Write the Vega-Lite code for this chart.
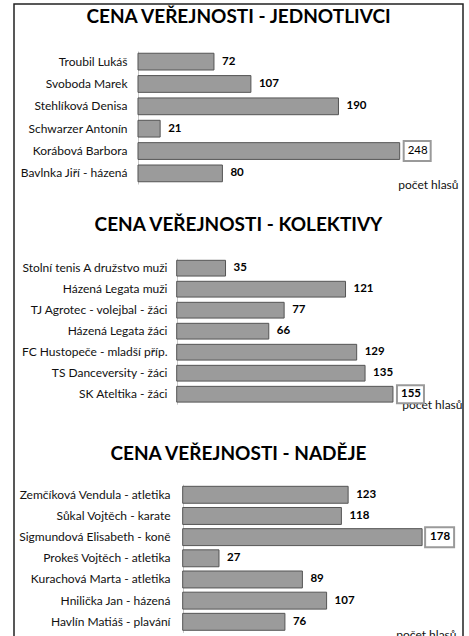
{
  "$schema": "https://vega.github.io/schema/vega-lite/v6.json",
  "padding": {"left": 13, "top": 3, "right": 0, "bottom": 0},
  "autosize": {"type": "pad"},
  "background": "white",
  "spacing": 0,
  "bounds": "flush",
  "config": {
    "font": "Lato",
    "view": {"stroke": "#222", "strokeWidth": 1.5},
    "concat": {"spacing": 0},
    "title": {"font": "Lato", "fontSize": 19, "fontWeight": "bold", "color": "#000", "anchor": "middle", "frame": "group", "baseline": "alphabetic"},
    "axisY": {"domainColor": "#c8c8c8", "domainWidth": 1, "ticks": false, "tickSize": 0, "grid": false, "labelFont": "Lato", "labelFontSize": 12, "labelColor": "#111", "labelLimit": 0, "title": null},
    "axisX": {"labels": false, "ticks": false, "domain": false, "grid": false, "titleFont": "Lato", "titleFontSize": 12, "titleFontWeight": "normal", "titleColor": "#111", "titleAlign": "right", "titleBaseline": "middle", "titleAnchor": null}
  },
  "datasets": {
    "jednotlivci": [
      {"jmeno": "Troubil Lukáš", "hlasy": 72},
      {"jmeno": "Svoboda Marek", "hlasy": 107},
      {"jmeno": "Stehlíková Denisa", "hlasy": 190},
      {"jmeno": "Schwarzer Antonín", "hlasy": 21},
      {"jmeno": "Korábová Barbora", "hlasy": 248},
      {"jmeno": "Bavlnka Jiří - házená", "hlasy": 80}
    ],
    "kolektivy": [
      {"jmeno": "Stolní tenis A družstvo muži", "hlasy": 35},
      {"jmeno": "Házená Legata muži", "hlasy": 121},
      {"jmeno": "TJ Agrotec - volejbal - žáci", "hlasy": 77},
      {"jmeno": "Házená Legata žáci", "hlasy": 66},
      {"jmeno": "FC Hustopeče - mladší příp.", "hlasy": 129},
      {"jmeno": "TS Danceversity - žáci", "hlasy": 135},
      {"jmeno": "SK Ateltika - žáci", "hlasy": 155}
    ],
    "nadeje": [
      {"jmeno": "Zemčíková Vendula - atletika", "hlasy": 123},
      {"jmeno": "Sůkal Vojtěch - karate", "hlasy": 118},
      {"jmeno": "Sigmundová Elisabeth - koně", "hlasy": 178},
      {"jmeno": "Prokeš Vojtěch - atletika", "hlasy": 27},
      {"jmeno": "Kurachová Marta - atletika", "hlasy": 89},
      {"jmeno": "Hnilička Jan - házená", "hlasy": 107},
      {"jmeno": "Havlín Matiáš - plavání", "hlasy": 76}
    ]
  },
  "vconcat": [
    {
      "width": 449,
      "height": 200,
      "title": {"text": "CENA VEŘEJNOSTI - JEDNOTLIVCI", "offset": -23},
      "view": {"stroke": "#222", "strokeWidth": 1.5, "strokeDash": [649, 449, 200]},
      "data": {"name": "jednotlivci"},
      "transform": [{"joinaggregate": [{"op": "max", "field": "hlasy", "as": "maxHlasy"}]}],
      "encoding": {
        "y": {"field": "jmeno", "type": "nominal", "sort": null, "scale": {"range": [47, 180], "paddingInner": 0.25, "paddingOuter": 0.1}, "axis": {"offset": -124, "labelPadding": 11}},
        "x": {"field": "hlasy", "type": "quantitative", "scale": {"domain": [-117.5, 308], "nice": false, "zero": false}, "axis": {"title": "počet hlasů", "titleX": 444, "titleY": -20}}
      },
      "layer": [
        {"mark": {"type": "bar", "fill": "#9b9b9b", "stroke": "#555", "strokeWidth": 1}},
        {"transform": [{"filter": "datum.hlasy === datum.maxHlasy"}], "mark": {"type": "point", "shape": "M-1.35,-1H1.35V1H-1.35Z", "size": 400, "filled": true, "fill": "white", "stroke": "#9a9a9a", "strokeWidth": 2, "opacity": 1, "xOffset": 17.5}},
        {"transform": [{"filter": "datum.hlasy < datum.maxHlasy"}], "mark": {"type": "text", "align": "left", "baseline": "middle", "dx": 8, "fontWeight": "bold", "fontSize": 11.5, "color": "#000"}, "encoding": {"text": {"field": "hlasy", "type": "quantitative"}}},
        {"transform": [{"filter": "datum.hlasy === datum.maxHlasy"}], "mark": {"type": "text", "align": "left", "baseline": "middle", "dx": 8, "fontWeight": "normal", "fontSize": 11.5, "color": "#000"}, "encoding": {"text": {"field": "hlasy", "type": "quantitative"}}}
      ]
    },
    {
      "width": 449,
      "height": 219,
      "title": {"text": "CENA VEŘEJNOSTI - KOLEKTIVY", "offset": -31},
      "view": {"stroke": "#222", "strokeWidth": 1.5, "strokeDash": [0, 449, 219, 449, 219]},
      "data": {"name": "kolektivy"},
      "transform": [{"joinaggregate": [{"op": "max", "field": "hlasy", "as": "maxHlasy"}]}],
      "encoding": {
        "y": {"field": "jmeno", "type": "nominal", "sort": null, "scale": {"range": [54.2, 200.2], "paddingInner": 0.25, "paddingOuter": 0.1}, "axis": {"offset": -163, "labelPadding": 10}},
        "x": {"field": "hlasy", "type": "quantitative", "scale": {"domain": [-116.6, 205.2], "nice": false, "zero": false}, "axis": {"title": "počet hlasů", "titleX": 448, "titleY": -19}}
      },
      "layer": [
        {"mark": {"type": "bar", "fill": "#9b9b9b", "stroke": "#555", "strokeWidth": 1}},
        {"transform": [{"filter": "datum.hlasy === datum.maxHlasy"}], "mark": {"type": "point", "shape": "M-1.5,-1H1.5V1H-1.5Z", "size": 324, "filled": true, "fill": "white", "stroke": "#9a9a9a", "strokeWidth": 2, "opacity": 1, "xOffset": 17.5}},
        {"mark": {"type": "text", "align": "left", "baseline": "middle", "dx": 8, "fontWeight": "bold", "fontSize": 11.5, "color": "#000"}, "encoding": {"text": {"field": "hlasy", "type": "quantitative"}}}
      ]
    },
    {
      "width": 449,
      "height": 216,
      "title": {"text": "CENA VEŘEJNOSTI - NADĚJE", "offset": -40.5},
      "view": {"stroke": "#222", "strokeWidth": 1.5, "strokeDash": [0, 449, 216, 449, 216]},
      "data": {"name": "nadeje"},
      "transform": [{"joinaggregate": [{"op": "max", "field": "hlasy", "as": "maxHlasy"}]}],
      "encoding": {
        "y": {"field": "jmeno", "type": "nominal", "sort": null, "scale": {"range": [61.2, 209.4], "paddingInner": 0.2, "paddingOuter": 0.1}, "axis": {"offset": -169, "labelPadding": 13}},
        "x": {"field": "hlasy", "type": "quantitative", "scale": {"domain": [-125.4, 208.4], "nice": false, "zero": false}, "axis": {"title": "počet hlasů", "titleX": 442, "titleY": -5}}
      },
      "layer": [
        {"mark": {"type": "bar", "fill": "#9b9b9b", "stroke": "#555", "strokeWidth": 1}},
        {"transform": [{"filter": "datum.hlasy === datum.maxHlasy"}], "mark": {"type": "point", "shape": "M-1.45,-1H1.45V1H-1.45Z", "size": 400, "filled": true, "fill": "white", "stroke": "#9a9a9a", "strokeWidth": 2, "opacity": 1, "xOffset": 17.5}},
        {"mark": {"type": "text", "align": "left", "baseline": "middle", "dx": 8, "fontWeight": "bold", "fontSize": 11.5, "color": "#000"}, "encoding": {"text": {"field": "hlasy", "type": "quantitative"}}}
      ]
    }
  ]
}
